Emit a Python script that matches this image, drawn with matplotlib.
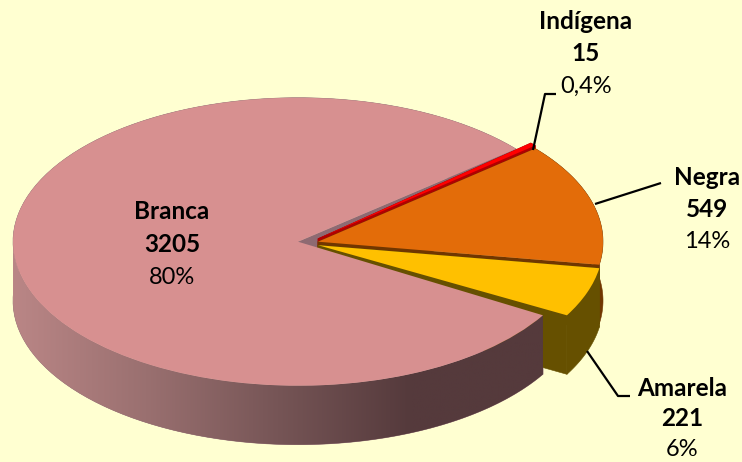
#!/usr/bin/env python3
"""Exploded 3D-look pie of population by colour/race."""

import matplotlib

matplotlib.use("Agg")
import matplotlib.pyplot as plt
import numpy as np
from matplotlib.colors import LinearSegmentedColormap
from matplotlib.patches import Polygon

categories = ["Negra", "Indígena", "Branca", "Amarela"]
counts = [549, 15, 3205, 221]
percents = ["14%", "0,4%", "80%", "6%"]

BACKGROUND = "#FFFFD1"
TOP_COLORS = ["#E36C09", "#FF0000", "#D79090", "#FFC000"]
WALL_COLORS = ["#713600", "#B00000", "#8E6A72", "#665000"]
SHADE_STOPS = ["#BA8686", "#9A7070", "#765556", "#553A3C", "#553A3C"]

# pixel geometry of the drawing
CX, CY = 298.0, 241.7
RX, RY = 285.0, 144.0
DEPTH = 59.0
OFFSETS = {"Negra": (20, 0), "Indígena": (20, -3), "Branca": (0, 0), "Amarela": (20, 3.5)}
BRANCA_TURN = -1.6  # the original's perspective turns the big slice slightly

# label centre x, first-line y, line pitch
LABEL_POS = {"Negra": (707, 178, 32), "Indígena": (586, 22, 32), "Branca": (172, 212, 32.5), "Amarela": (682, 388, 31)}
LEADERS = {
    "Negra": ([595, 661], [204, 183]),
    "Indígena": ([533, 545, 556], [150, 94, 94]),
    "Amarela": ([587, 618, 630], [351, 396, 396]),
}


def ux(x):
    return (np.asarray(x, dtype=float) - CX) / RX


def uy(y):
    return (CY - np.asarray(y, dtype=float)) / RY


def arc(theta1, theta2, n=120):
    t = np.radians(np.linspace(theta1, theta2, n))
    return np.cos(t), np.sin(t)


def add_walls(ax, wedge, dx, dy, color, zorder):
    """Extrude one wedge downwards: outer band plus its two cut faces."""
    depth = DEPTH / RY
    x, y = arc(wedge.theta1, wedge.theta2)
    x = x + dx
    y = y + dy
    band = np.column_stack([np.r_[x, x[::-1]], np.r_[y, y[::-1] - depth]])
    ax.add_patch(Polygon(band, closed=True, fc=color, ec=color, lw=0.4, zorder=zorder))
    for px_, py_ in ((x[0], y[0]), (x[-1], y[-1])):
        cut = [(dx, dy), (px_, py_), (px_, py_ - depth), (dx, dy - depth)]
        ax.add_patch(Polygon(cut, closed=True, fc=color, ec=color, lw=0.4, zorder=zorder))


fig = plt.figure(figsize=(7.42, 4.62), dpi=100, facecolor=BACKGROUND)
ax = fig.add_axes([0, 0, 1, 1])

wedges, _ = ax.pie(counts, colors=TOP_COLORS, startangle=-9.2, counterclock=True)
ax.set_aspect("auto")

order = {"Branca": 1, "Indígena": 2, "Negra": 4, "Amarela": 6}
for name, wedge, wall in zip(categories, wedges, WALL_COLORS):
    off_x, off_y = OFFSETS[name]
    dx, dy = off_x / RX, -off_y / RY
    wedge.set_center((dx, dy))
    wedge.set_edgecolor("none")
    z = order[name]
    if name == "Branca":
        wedge.set_theta1(wedge.theta1 + BRANCA_TURN)
        wedge.set_theta2(wedge.theta2 + BRANCA_TURN)
        wedge.set_zorder(9)
        add_walls(ax, wedge, dx, dy, wall, 1)
        # shaded front wall
        x, y = arc(180, wedge.theta2)
        front = np.column_stack([np.r_[x, x[::-1]], np.r_[y, y[::-1] - DEPTH / RY]])
        clip = Polygon(front, closed=True, fc="none", ec="none", transform=ax.transData)
        ax.add_patch(clip)
        cmap = LinearSegmentedColormap.from_list("wall", SHADE_STOPS)
        img = ax.imshow(
            np.linspace(0, 1, 256)[None, :],
            cmap=cmap,
            extent=[-1, x[-1], y.min() - DEPTH / RY, y.max()],
            aspect="auto",
            zorder=8,
        )
        img.set_clip_path(clip)
    else:
        wedge.set_zorder(z + 1)
        add_walls(ax, wedge, dx, dy, wall, z)

ax.set_xlim(ux(0), ux(742))
ax.set_ylim(uy(462), uy(0))
ax.axis("off")

for name, (lx, ly) in LEADERS.items():
    ax.plot(ux(lx), uy(ly), color="black", lw=1.6, zorder=10, solid_capstyle="butt")

for name, count, pct in zip(categories, counts, percents):
    tx, ty, pitch = LABEL_POS[name]
    lines = [(name, "bold", 17.5), (str(count), "bold", 17.5), (pct, "normal", 17)]
    for i, (txt, weight, size) in enumerate(lines):
        ax.text(ux(tx), uy(ty + i * pitch), txt, family="Lato", fontsize=size, fontweight=weight,
                ha="center", va="center", color="black", zorder=11)

fig.savefig("out.png", dpi=100, facecolor=BACKGROUND)
